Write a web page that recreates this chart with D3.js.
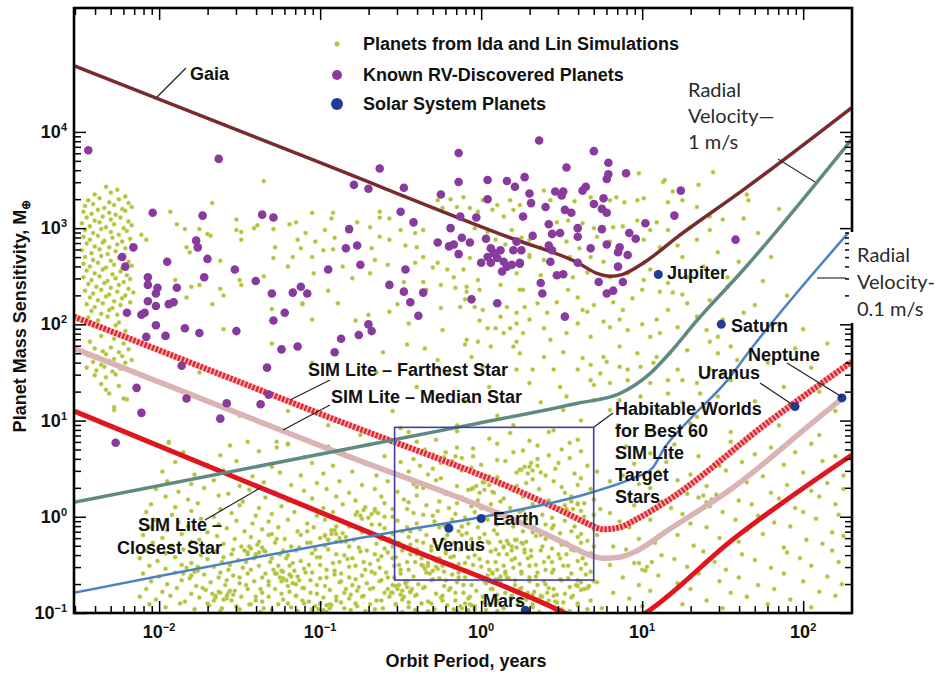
<!DOCTYPE html>
<html><head><meta charset="utf-8">
<script src="https://cdn.jsdelivr.net/npm/d3@7"></script>
<style>
body{margin:0;background:#fff}
svg{display:block}
text{font-family:"Liberation Sans",Arial,sans-serif}
.b{font-weight:bold;font-size:18px;fill:#111}
.rv{font-family:Lato,"Liberation Sans",sans-serif;font-size:20px;fill:#2b2b2b}
</style>
</head><body>
<svg id="c" width="935" height="673"></svg>
<script>
// ---------------- DATA ----------------
const xDomain = [0.00296, 201];      // orbit period, years
const yDomain = [0.1, 194000];       // planet mass, Earth masses
const xTickExp = [-2, -1, 0, 1, 2];
const yTickExp = [-1, 0, 1, 2, 3, 4];
const legendLabels = ["Planets from Ida and Lin Simulations", "Known RV-Discovered Planets", "Solar System Planets"];

// Solar system planets [name, period (yr), mass (Earth masses)]
const solarPlanets = [
  ["Venus", 0.63, 0.76], ["Earth", 1.0, 0.96], ["Mars", 1.88, 0.107],
  ["Jupiter", 12.6, 330], ["Saturn", 31, 100], ["Uranus", 89, 14], ["Neptune", 174, 17.2]
];

// Curves, as [log10 period, log10 mass]
const gaiaLog = [[-2.53,4.69],[-1,3.68],[.18,2.9],[.6,2.64],[.72,2.53],[.8,2.5],[.88,2.52],[1.01,2.64],[1.22,2.91],[1.63,3.4],[2.3,4.25]];
const farthestLog = [[-2.53,2.08],[-1,1.07],[.4,.14],[.55,.02],[.66,-.07],[.76,-.13],[.86,-.11],[.96,-.03],[1.16,.17],[1.78,.98],[2.3,1.61]];
const medianLog = [[-2.53,1.75],[-1,.74],[.4,-.18],[.55,-.3],[.66,-.39],[.76,-.43],[.86,-.42],[.96,-.36],[1.16,-.14],[1.57,.31],[2.06,.98],[2.25,1.24]];
const closestLog = [[-2.53,1.1],[-.48,-.31],[.52,-1],[.78,-1.22],[1.02,-1],[1.56,-.24],[2.3,.64]];
const rv1Log = [[-2.53,.15],[-.07,.955],[.6,1.18],[.86,1.28],[1.05,1.49],[1.17,1.7],[1.34,2.04],[1.63,2.57],[2.3,3.92]];
const rv01Log = [[-2.53,-.79],[-.48,-.14],[.01,0],[.7,.26],[.94,.4],[1.06,.5],[1.14,.72],[1.3,1.02],[1.53,1.42],[1.67,1.73],[2.28,2.95]];
// Habitable zone box: [period min, period max], [mass min, mass max]
const habitablePeriod = [0.29, 5.0];
const habitableMass = [0.22, 8.5];

// Known RV-discovered planets [log10 P, log10 M]
const rvPlanetsLog = [[-2.44,3.81],[-1.63,3.72],[-2.04,3.16],[-1.73,3.13],[-1.36,3.14],[-1.29,3.11],[-2.16,2.8],[-1.77,2.87],[-1.76,2.8],[-2.23,2.7],[-2.21,2.6],[-1.95,2.65],[-1.7,2.68],[-1.53,2.57],[-2.07,2.49],[-1.72,2.49],[-1.4,2.45],[-2.07,2.41],[-2.01,2.38],[-1.89,2.38],[-1.12,2.39],[-2.02,2.32],[-2.07,2.24],[-2.02,2.19],[-1.94,2.21],[-1.91,2.23],[-2.11,2.1],[-2.09,2.12],[-2.2,2.12],[-2.02,1.99],[-1.96,1.88],[-1.84,1.96],[-1.75,1.91],[-1.52,1.93],[-1.3,2.32],[-1.17,2.33],[-1.22,2.12],[-1.29,2.04],[-1.24,1.74],[-1.14,1.77],[-2.08,1.87],[-1.86,1.57],[-1.33,1.55],[-2.14,1.34],[-1.83,1.23],[-1.58,1.18],[-1.37,1.17],[-2.11,1.08],[-1.62,1.02],[-2.27,.77],[-1.32,1.27],
[-.14,3.78],[-.63,3.62],[-.79,3.45],[-.7,3.41],[-.48,3.42],[-.14,3.48],[-.25,3.35],[.04,3.5],[.16,3.49],[.21,3.43],[.04,3.3],[-.5,3.17],[-.42,3.06],[-.13,3.12],[-.03,3.11],[-.82,2.99],[-.19,3],[-.12,2.9],[-.27,2.85],[-.2,2.81],[-.17,2.83],[-.07,2.85],[.03,2.89],[-.84,2.79],[-.77,2.82],[-.14,2.73],[.06,2.79],[.08,2.74],[.1,2.69],[.12,2.77],[.04,2.7],[.14,2.65],[.16,2.6],[.19,2.62],[.2,2.77],[.22,2.86],[0,2.64],[.06,2.64],[.13,2.55],[.24,2.64],[-.75,2.62],[-.95,2.57],[-.47,2.57],[-.57,2.41],[-1.08,2.32],[-.48,2.34],[-.36,2.33],[-.44,2.23],[-.39,2.09],[-.06,2.26],[.1,2.22],[-.7,2],[-.68,1.93],[-.76,1.89],[-.87,1.85],[-.91,1.71],
[.36,3.91],[.7,3.8],[.79,3.68],[.9,3.57],[.79,3.56],[.78,3.51],[.53,3.63],[.27,3.53],[.3,3.36],[.31,3.26],[.46,3.38],[.51,3.38],[.5,3.34],[.65,3.43],[.63,3.39],[.76,3.31],[.7,3.25],[.4,3.22],[.52,3.19],[.56,3.16],[.75,3.2],[.78,3.16],[.26,3.12],[.42,3.04],[.6,3],[.75,2.99],[1.02,3.05],[1.24,3.39],[1.2,3.13],[.32,2.92],[.44,2.94],[.49,2.95],[.6,2.91],[.92,2.95],[.96,2.89],[.78,2.83],[.68,2.79],[.42,2.82],[.44,2.77],[.86,2.8],[.85,2.75],[.91,2.72],[.25,2.77],[.24,2.63],[.43,2.65],[.85,2.6],[.6,2.64],[.73,2.44],[.47,2.51],[.51,2.52],[.37,2.43],[.88,2.44],[1.58,2.88],[.38,2.32],[.78,2.32],[.82,2.35],[.52,2.08]];

// Ida & Lin simulated planets [log10 P, log10 M] — hot-Jupiter pile-up at left
const simClusterLog = [[-2.33,3.43],[-2.26,3.4],[-2.4,3.35],[-2.3,3.37],[-2.21,3.33],[-2.44,3.29],[-2.37,3.31],[-2.31,3.27],[-2.25,3.3],[-2.19,3.26],[-2.46,3.23],[-2.41,3.25],[-2.34,3.21],[-2.28,3.24],[-2.23,3.2],[-2.17,3.22],[-2.47,3.17],[-2.42,3.15],[-2.38,3.19],[-2.31,3.16],[-2.27,3.14],[-2.21,3.18],[-2.45,3.11],[-2.4,3.08],[-2.35,3.12],[-2.3,3.09],[-2.24,3.11],[-2.19,3.07],[-2.48,3.05],[-2.43,3.02],[-2.37,3.06],[-2.33,3.01],[-2.28,3.04],[-2.22,3],[-2.17,3.03],[-2.46,2.98],[-2.41,2.95],[-2.36,2.99],[-2.3,2.96],[-2.25,2.93],[-2.2,2.97],[-2.47,2.91],[-2.43,2.88],[-2.38,2.92],[-2.34,2.87],[-2.29,2.9],[-2.23,2.86],[-2.18,2.89],[-2.45,2.84],[-2.4,2.81],[-2.35,2.85],[-2.31,2.8],[-2.26,2.83],[-2.21,2.79],[-2.16,2.82],[-2.48,2.77],[-2.42,2.74],[-2.37,2.78],[-2.32,2.73],[-2.27,2.76],[-2.22,2.72],[-2.46,2.7],[-2.41,2.67],[-2.36,2.71],[-2.3,2.66],[-2.25,2.69],[-2.19,2.65],[-2.47,2.63],[-2.43,2.6],[-2.38,2.64],[-2.33,2.59],[-2.28,2.62],[-2.23,2.58],[-2.17,2.61],[-2.45,2.56],[-2.4,2.53],[-2.35,2.57],[-2.29,2.52],[-2.24,2.55],[-2.2,2.51],[-2.47,2.49],[-2.42,2.46],[-2.37,2.5],[-2.32,2.45],[-2.27,2.48],[-2.22,2.44],[-2.18,2.47],[-2.44,2.42],[-2.39,2.39],[-2.34,2.43],[-2.3,2.38],[-2.25,2.41],[-2.19,2.37],[-2.46,2.35],[-2.41,2.32],[-2.36,2.36],[-2.31,2.31],[-2.26,2.34],[-2.21,2.3],[-2.16,2.33],[-2.43,2.28],[-2.38,2.25],[-2.33,2.29],[-2.28,2.24],[-2.23,2.27],[-2.18,2.23],[-2.45,2.21],[-2.4,2.18],[-2.35,2.22],[-2.29,2.17],[-2.24,2.2],[-2.42,2.14],[-2.36,2.11],[-2.31,2.15],[-2.26,2.1],[-2.2,2.13],[-2.44,2.07],[-2.38,2.04],[-2.32,2.08],[-2.25,2.02],[-2.4,1.98],[-2.33,1.95],[-2.27,1.99],[-2.21,1.93],[-2.36,1.88],[-2.28,1.85],[-2.43,1.82],[-2.22,1.8],[-2.4,1.75],[-2.35,1.72],[-2.3,1.76],[-2.25,1.71],[-2.19,1.74],[-2.44,1.68],[-2.38,1.66],[-2.33,1.69],[-2.28,1.64],[-2.23,1.67],[-2.17,1.63],[-2.41,1.61],[-2.36,1.58],[-2.31,1.62],[-2.26,1.57],[-2.21,1.6],[-2.45,1.55],[-2.39,1.52],[-2.34,1.56],[-2.29,1.51],[-2.24,1.54],[-2.4,1.47],[-2.33,1.45],[-2.27,1.48],[-2.36,1.38],[-2.25,1.36],[-2.31,1.28],[-2.2,1.22],[-2.28,1.14],[-2.33,1.32],[-2.22,1.23],[-2.28,1.11]];

const simUpperLog = [[-1.35,3.49],[-1.67,3.26],[-1.93,3.17],[-1.52,3.09],[-1.89,3.04],[-1.84,2.99],[-1.75,2.99],[-1.7,2.94],[-1.68,2.92],[-1.52,2.98],[-1.49,2.96],[-1.41,3],[-1.39,3.03],[-1.29,2.99],[-1.19,3.04],[-1.15,3.06],[-2.11,2.93],[-2.08,2.88],[-1.83,2.8],[-1.81,2.75],[-1.49,2.88],[-1.28,2.8],[-1.29,2.69],[-1.17,2.7],[-1.62,2.66],[-1.9,2.46],[-1.75,2.41],[-1.5,2.46],[-1.49,2.41],[-1.2,2.6],[-1.14,2.88],[-1.8,2.39],[-1.83,2.28],[-1.67,2.21],[-1.62,2.37],[-1.3,2.16],[-1.11,2.21],[-1.94,.78],[-1.27,.78],[-1.2,.75],
[-1.05,3.16],[-.92,3.16],[-.93,3.1],[-.97,2.98],[-.77,3.06],[-.69,3.01],[-.63,3.17],[-.63,3.11],[-.57,3.1],[-1.09,2.95],[-1.03,2.86],[-.91,2.9],[-1.12,2.79],[-.98,2.77],[-.92,2.78],[-1.05,2.7],[-.68,2.79],[-.63,2.91],[-.57,2.88],[-.5,2.98],[-.41,2.95],[-.36,2.98],[-.47,2.82],[-.4,2.8],[-.66,2.67],[-.58,2.62],[-.86,2.6],[-1.04,2.53],[-.8,2.48],[-.69,2.53],[-.48,2.44],[-.36,2.7],[-.3,2.59],[-.27,2.64],[-.41,2.64],[-.21,2.57],[-.17,2.49],[-.11,2.57],[-.36,2.44],[-.25,2.41],[-.09,2.39],[-.02,2.46],
[-.27,3.29],[-.24,3.21],[-.19,3.3],[-.15,3.22],[-.11,3.32],[-.07,3.21],[-.02,3.17],[.01,3.29],[.07,3.19],[.1,3.24],[.14,3.12],[.18,3.29],[.2,3.19],[.24,3.24],[-.04,3],[.04,2.96],[.15,2.83],[.19,2.98],[.25,2.9],[.3,2.72],[.09,2.88],[-.07,2.69],[-.1,2.26],[-.01,2.36],[.12,2.41],[.24,2.36],
[-1.11,2.22],[-.89,2.22],[-.78,2.04],[-.57,2.13],[-.52,2.21],[-.45,2.01],[-.46,1.79],[-.61,1.71],[-.34,2.36],[-.25,2.17],[-.24,1.94],[-.16,2.38],[-.13,2.18],[-.09,2.34],[-.04,2.18],[.01,2.15],[-.09,1.84],[-.1,1.79],[-.02,1.82],[-.01,2.04],[.04,1.96],[.09,1.96],[.14,1.91],[.18,1.96],[.06,1.77],[.12,2.08],[.16,2.18],[.22,2.12],[.2,1.77],[-.06,1.66],[.01,1.56],[-.27,1.63],
[.39,3.39],[.43,3.29],[.58,3.28],[.68,3.32],[.8,3.29],[.84,3.32],[.89,3.27],[.97,3.29],[1.01,3.31],[.98,3.57],[1.13,3.48],[1.19,3.38],[1.25,3.29],[1.16,3.27],[1.34,3.22],[1.44,3.58],[1.42,3.12],[1.5,3.09],[.47,3.06],[.54,3.08],[.63,3.05],[.7,3],[.82,3.01],[.88,3.02],[.97,3.08],[1.05,2.98],[1.09,3.06],[1.16,2.98],[1.3,3.01],[1.42,2.98],[1.63,3.1],[.3,2.88],[.37,2.8],[.53,2.86],[.61,2.79],[.72,2.91],[.8,2.86],[1.01,2.88],[1.11,2.8],[1.22,2.82],[1.34,2.88],[1.47,2.75],[1.25,2.7],[1.38,2.6],[1.01,2.64],[1.05,2.57],[.3,2.7],[.39,2.67],[.55,2.7],[.68,2.7],[.76,2.65],[.22,2.53],[.37,2.51],[.57,2.49],[.66,2.54],[.8,2.49],[.91,2.53],[1.01,2.46],[1.16,2.43],[1.28,2.49],[1.53,2.49]];

const simMidLog = [[.26,2.36],[.27,2.18],[.35,2.22],[.41,2.12],[.3,2.05],[.22,2.01],[.47,2.23],[.54,2.36],[.6,2.28],[.63,2.15],[.66,2.13],[.7,2.2],[.82,2.23],[.88,2.15],[.94,2.27],[1,2.36],[1.11,2.34],[1.19,2.33],[1.25,2.31],[1.16,2.15],[1.28,2.22],[1.34,2.08],[1.09,2.05],[1,2],[.86,2.05],[.76,2.03],[.8,1.97],[.6,2.01],[.39,1.96],[.26,1.91],[.22,1.82],[.43,1.84],[.53,1.91],[.68,1.87],[.91,1.94],[1.05,1.87],[1.11,1.91],[1.22,1.97],[1.4,1.94],[1.47,1.87],[1.42,1.82],[1.28,1.73],[1.17,1.7],[1.09,1.66],[.97,1.7],[.86,1.77],[.76,1.66],[.78,1.61],[.63,1.65],[.68,1.58],[.51,1.71],[.39,1.66],[.32,1.53],[.45,1.53],[.6,1.53],[.74,1.49],[.86,1.56],[.91,1.53],[.99,1.56],[1.07,1.6],[1.22,1.53],[1.25,1.42],[1.34,1.39],[1.42,1.53],[1.5,1.49],[1.59,1.63],[1.47,1.7],[1.55,1.77],[1.5,2.05],[1.63,2.12],[1.42,2.25],[1.53,2.39],[.24,1.7],[.22,1.53],[.3,1.39],[.49,1.35],[.68,1.42],[.7,1.37],[.8,1.39],[.91,1.42],[1.05,1.39],[1.16,1.42],[.99,1.25],[.86,1.21],[.7,1.21],[.53,1.25],[.37,1.19],[1.16,1.28],[1.25,1.19],[1.36,1.28],[1.47,1.25],[1.55,1.42],[1.38,1.14],[1.11,1.11],[.8,1.11],[.51,1.11],[1.34,1.04],
[1.72,2.95],[1.8,2.7],[1.75,2.45],[1.9,2.3],[1.7,2.2],[1.85,2],[1.95,1.75],[2.05,1.55],[1.78,1.6],[1.88,1.35],[2.1,1.3],[2.2,1.1],[1.7,1.2],[2,1.95],[1.65,3.35],[1.85,3.2],[1.6,2.65],[2.15,1.8],[1.14,3.5],[1.35,3.45],[1.66,3.29],
[-1.6,1.95],[-1.3,1.8],[-1.75,1.5],[-1.05,1.6],[-.8,1.3],[-1.2,1.1],[-.65,1.5],[-1.5,1.05],[-.95,.95],[-.55,1.1],[-.4,1.35],[-.2,1.5],[-.35,1.75],[-.1,1.2],[.05,1.35],[.1,1.05],[-.15,.95],[-.7,2.1],[-.95,2.35],[-1.35,2.5],[-1.6,2.3],[-1.05,2.05],
[-.5,.92],[.2,.95],[.45,.9],[.62,1],[-.75,.85],[.85,.95],[1.05,.9],[1.3,.97],[1.55,.88],[1.85,.95],[2.1,.85]];

const simLowerLog = [[-1.94,.77],[-1.56,.74],[-1.45,.78],[-1.27,.72],[-1.2,.76],[-.95,.73],[-.7,.75],[-.4,.78],[-.15,.72],[.1,.76],[.35,.74],[.55,.77],[.9,.73],[1.2,.75],[1.55,.78],[1.8,.72],[2.05,.76],
[-1.85,.67],[-1.62,.64],[-1.38,.68],[-1.1,.62],[-.85,.66],[-.6,.63],[-.3,.65],[-.22,.67],[-.05,.63],[.2,.67],[.42,.64],[.62,.68],[.85,.62],[1.05,.66],[1.35,.63],[1.7,.65],[1.95,.67],[2.2,.63],
[-1.9,.57],[-1.7,.54],[-1.52,.58],[-1.3,.52],[-1.05,.56],[-.92,.53],[-.72,.55],[-.5,.57],[-.38,.53],[-.18,.57],[0,.54],[.15,.58],[.3,.52],[.48,.56],[.66,.53],[.95,.55],[1.15,.57],[1.48,.53],[1.62,.57],[1.88,.54],[2.12,.58],
[-1.98,.47],[-1.78,.44],[-1.6,.48],[-1.42,.42],[-1.25,.46],[-1.12,.43],[-.98,.45],[-.8,.47],[-.65,.43],[-.45,.47],[-.33,.44],[-.12,.48],[.05,.42],[.22,.46],[.4,.43],[.58,.45],[.72,.47],[.88,.43],[1.1,.47],[1.3,.44],[1.52,.48],[1.75,.42],[2,.46],[2.25,.43],
[-1.95,.37],[-1.8,.34],[-1.66,.38],[-1.5,.32],[-1.35,.36],[-1.18,.33],[-1.02,.35],[-.88,.37],[-.74,.33],[-.58,.37],[-.42,.34],[-.28,.38],[-.15,.32],[.02,.36],[.12,.33],[.28,.35],[.45,.37],[.6,.33],[.8,.37],[.98,.34],[1.22,.38],[1.4,.32],[1.65,.36],[1.9,.33],[2.15,.35],
[-2.02,.29],[-1.88,.26],[-1.72,.3],[-1.57,.24],[-1.44,.28],[-1.28,.25],[-1.1,.27],[-.96,.29],[-.82,.25],[-.66,.29],[-.52,.26],[-.36,.3],[-.22,.24],[-.08,.28],[.08,.25],[.2,.27],[.36,.29],[.52,.25],[.68,.29],[.86,.26],[1.05,.3],[1.28,.24],[1.55,.28],[1.8,.25],[2.05,.27],[2.25,.29],
[-1.96,.21],[-1.82,.18],[-1.63,.22],[-1.48,.16],[-1.34,.2],[-1.2,.17],[-1.05,.19],[-.9,.21],[-.78,.17],[-.62,.21],[-.48,.18],[-.4,.22],[-.26,.16],[-.12,.2],[-.02,.17],[.14,.19],[.26,.21],[.42,.17],[.56,.21],[.7,.18],[.92,.22],[1.12,.16],[1.35,.2],[1.6,.17],[1.85,.19],[2.1,.21],
[-2.05,.13],[-1.9,.1],[-1.76,.14],[-1.62,.08],[-1.5,.12],[-1.38,.09],[-1.24,.11],[-1.12,.13],[-.98,.09],[-.86,.13],[-.72,.1],[-.6,.14],[-.46,.08],[-.34,.12],[-.2,.09],[-.06,.11],[.06,.13],[.18,.09],[.32,.13],[.46,.1],[.6,.14],[.74,.08],[.95,.12],[1.18,.09],[1.42,.11],[1.68,.13],[1.95,.09],[2.2,.13],
[-2.08,.05],[-1.92,.02],[-1.8,.06],[-1.66,0],[-1.55,.04],[-1.4,.01],[-1.3,.03],[-1.16,.05],[-1.02,.01],[-.92,.05],[-.78,.02],[-.66,.06],[-.55,0],[-.42,.04],[-.3,.01],[-.16,.03],[-.04,.05],[.1,.01],[.24,.05],[.38,.02],[.5,.06],[.64,0],[.8,.04],[1,.01],[1.25,.03],[1.5,.05],[1.72,.01],[2,.05],[2.22,.02],
[-2.03,-.03],[-1.88,-.06],[-1.74,-.02],[-1.63,-.08],[-1.52,-.04],[-1.42,-.07],[-1.32,-.05],[-1.2,-.03],[-1.08,-.07],[-.97,-.03],[-.85,-.06],[-.74,-.02],[-.63,-.08],[-.52,-.04],[-.4,-.07],[-.29,-.05],[-.18,-.03],[-.08,-.07],[.04,-.03],[.15,-.06],[.28,-.02],[.4,-.08],[.52,-.04],[.65,-.07],[.86,-.05],[1.05,-.03],[1.3,-.07],[1.58,-.03],[1.82,-.06],[2.08,-.02],
[-2.06,-.11],[-1.95,-.14],[-1.82,-.1],[-1.7,-.16],[-1.58,-.12],[-1.47,-.15],[-1.36,-.13],[-1.26,-.11],[-1.14,-.15],[-1.04,-.11],[-.93,-.14],[-.82,-.1],[-.7,-.16],[-.6,-.12],[-.49,-.15],[-.38,-.13],[-.26,-.11],[-.14,-.15],[-.02,-.11],[.08,-.14],[.2,-.1],[.32,-.16],[.44,-.12],[.56,-.15],[.7,-.13],[.92,-.11],[1.15,-.15],[1.4,-.11],[1.65,-.14],[1.92,-.1],[2.18,-.16],
[-2.1,-.19],[-1.98,-.22],[-1.86,-.18],[-1.75,-.24],[-1.64,-.2],[-1.53,-.23],[-1.43,-.21],[-1.32,-.19],[-1.22,-.23],[-1.12,-.19],[-1,-.22],[-.9,-.18],[-.79,-.24],[-.68,-.2],[-.57,-.23],[-.45,-.21],[-.34,-.19],[-.23,-.23],[-.12,-.19],[-.01,-.22],[.1,-.18],[.22,-.24],[.34,-.2],[.46,-.23],[.6,-.21],[.72,-.19],[.98,-.23],[1.22,-.19],[1.48,-.22],[1.75,-.18],[2.02,-.24],[2.25,-.2],
[-2.04,-.27],[-1.92,-.3],[-1.8,-.26],[-1.7,-.32],[-1.6,-.28],[-1.49,-.31],[-1.39,-.29],[-1.28,-.27],[-1.18,-.31],[-1.08,-.27],[-.97,-.3],[-.87,-.26],[-.76,-.32],[-.65,-.28],[-.55,-.31],[-.44,-.29],[-.36,-.27],[-.27,-.31],[-.17,-.27],[-.06,-.3],[.04,-.26],[.14,-.32],[.26,-.28],[.38,-.31],[.5,-.29],[.62,-.27],[.82,-.31],[1.08,-.27],[1.32,-.3],[1.6,-.26],[1.88,-.32],[2.12,-.28],
[-2.08,-.35],[-1.96,-.38],[-1.85,-.34],[-1.74,-.4],[-1.65,-.36],[-1.55,-.39],[-1.45,-.37],[-1.35,-.35],[-1.25,-.39],[-1.15,-.35],[-1.05,-.38],[-.95,-.34],[-.85,-.4],[-.75,-.36],[-.66,-.39],[-.58,-.37],[-.49,-.35],[-.4,-.39],[-.31,-.35],[-.22,-.38],[-.13,-.34],[-.04,-.4],[.06,-.36],[.16,-.39],[.27,-.37],[.37,-.35],[.48,-.39],[.58,-.35],[.68,-.38],[.9,-.34],[1.12,-.4],[1.38,-.36],[1.62,-.39],[1.9,-.37],[2.18,-.35],
[-2.12,-.43],[-2.01,-.46],[-1.9,-.42],[-1.8,-.48],[-1.7,-.44],[-1.61,-.47],[-1.51,-.45],[-1.41,-.43],[-1.31,-.47],[-1.21,-.43],[-1.12,-.46],[-1.02,-.42],[-.92,-.48],[-.83,-.44],[-.73,-.47],[-.64,-.45],[-.55,-.43],[-.46,-.47],[-.37,-.43],[-.28,-.46],[-.19,-.42],[-.1,-.48],[-.01,-.44],[.09,-.47],[.19,-.45],[.29,-.43],[.39,-.47],[.49,-.43],[.6,-.46],[.71,-.42],[.95,-.48],[1.2,-.44],[1.45,-.47],[1.7,-.45],[1.98,-.43],[2.22,-.47],
[-2.06,-.51],[-1.96,-.54],[-1.86,-.5],[-1.76,-.56],[-1.66,-.52],[-1.57,-.55],[-1.48,-.53],[-1.38,-.51],[-1.29,-.55],[-1.19,-.51],[-1.1,-.54],[-1,-.5],[-.91,-.56],[-.82,-.52],[-.72,-.55],[-.63,-.53],[-.54,-.51],[-.45,-.55],[-.36,-.51],[-.27,-.54],[-.18,-.5],[-.09,-.56],[0,-.52],[.1,-.55],[.2,-.53],[.3,-.51],[.4,-.55],[.51,-.51],[.62,-.54],[.8,-.5],[1.02,-.56],[1.28,-.52],[1.52,-.55],[1.8,-.53],[2.05,-.51],
[-2.1,-.59],[-2,-.62],[-1.9,-.58],[-1.81,-.64],[-1.72,-.6],[-1.63,-.63],[-1.54,-.61],[-1.45,-.59],[-1.36,-.63],[-1.27,-.59],[-1.18,-.62],[-1.09,-.58],[-1,-.64],[-.91,-.6],[-.82,-.63],[-.74,-.61],[-.66,-.59],[-.58,-.63],[-.5,-.59],[-.42,-.62],[-.34,-.58],[-.26,-.64],[-.18,-.6],[-.1,-.63],[-.02,-.61],[.07,-.59],[.16,-.63],[.25,-.59],[.34,-.62],[.44,-.58],[.54,-.64],[.65,-.6],[.88,-.63],[1.1,-.61],[1.35,-.59],[1.6,-.63],[1.88,-.59],[2.15,-.62],
[-2.05,-.67],[-1.95,-.7],[-1.86,-.66],[-1.77,-.72],[-1.68,-.68],[-1.59,-.71],[-1.5,-.69],[-1.41,-.67],[-1.32,-.71],[-1.24,-.67],[-1.15,-.7],[-1.06,-.66],[-.97,-.72],[-.88,-.68],[-.8,-.71],[-.71,-.69],[-.63,-.67],[-.55,-.71],[-.47,-.67],[-.39,-.7],[-.31,-.66],[-.23,-.72],[-.15,-.68],[-.06,-.71],[.03,-.69],[.12,-.67],[.21,-.71],[.3,-.67],[.4,-.7],[.5,-.66],[.6,-.72],[.72,-.68],[.98,-.71],[1.22,-.69],[1.48,-.67],[1.72,-.71],[2,-.67],[2.24,-.7],
[-2.08,-.75],[-1.98,-.78],[-1.89,-.74],[-1.8,-.8],[-1.71,-.76],[-1.62,-.79],[-1.53,-.77],[-1.45,-.75],[-1.36,-.79],[-1.28,-.75],[-1.19,-.78],[-1.11,-.74],[-1.02,-.8],[-.94,-.76],[-.85,-.79],[-.77,-.77],[-.69,-.75],[-.6,-.79],[-.52,-.75],[-.44,-.78],[-.36,-.74],[-.28,-.8],[-.2,-.76],[-.11,-.79],[-.03,-.77],[.06,-.75],[.15,-.79],[.24,-.75],[.33,-.78],[.42,-.74],[.52,-.8],[.62,-.76],[.82,-.79],[1.05,-.77],[1.3,-.75],[1.55,-.79],[1.82,-.75],[2.1,-.78],
[-2.12,-.83],[-2.02,-.86],[-1.93,-.82],[-1.84,-.88],[-1.75,-.84],[-1.66,-.87],[-1.58,-.85],[-1.49,-.83],[-1.4,-.87],[-1.32,-.83],[-1.23,-.86],[-1.15,-.82],[-1.07,-.88],[-.98,-.84],[-.9,-.87],[-.82,-.85],[-.74,-.83],[-.65,-.87],[-.57,-.83],[-.49,-.86],[-.41,-.82],[-.33,-.88],[-.25,-.84],[-.16,-.87],[-.08,-.85],[.01,-.83],[.1,-.87],[.19,-.83],[.28,-.86],[.37,-.82],[.46,-.88],[.56,-.84],[.68,-.87],[.92,-.85],[1.15,-.83],[1.4,-.87],[1.65,-.83],[1.92,-.86],[2.2,-.82],
[-2.06,-.91],[-1.96,-.94],[-1.87,-.9],[-1.78,-.96],[-1.69,-.92],[-1.61,-.95],[-1.52,-.93],[-1.43,-.91],[-1.35,-.95],[-1.26,-.91],[-1.18,-.94],[-1.1,-.9],[-1.01,-.96],[-.93,-.92],[-.85,-.95],[-.77,-.93],[-.69,-.91],[-.61,-.95],[-.53,-.91],[-.45,-.94],[-.37,-.9],[-.29,-.96],[-.21,-.92],[-.12,-.95],[-.04,-.93],[.05,-.91],[.14,-.95],[.23,-.91],[.32,-.94],[.41,-.9],[.5,-.96],[.6,-.92],[.75,-.95],[1,-.93],[1.25,-.91],[1.5,-.95],[1.78,-.91],[2.05,-.94]];

const simDenseLog = [[-1.62,-.98],[-1.5,-.96],[-1.37,-.99],[-1.3,-.97],[-1.14,-.98],[-1.05,-.96],[-.96,-.99],[-.81,-.97],[-.72,-.98],[-.66,-.96],[-.49,-.99],[-.41,-.97],[-.33,-.98],[-.17,-.96],[-.08,-.99],[.03,-.97],[.1,-.98],[.27,-.96],[.36,-.99],[.46,-.97],[.55,-.98],[.66,-.96],
[-1.7,-.9],[-1.55,-.87],[-1.44,-.91],[-1.36,-.88],[-1.2,-.9],[-1.11,-.87],[-.94,-.91],[-.87,-.89],[-.78,-.9],[-.62,-.87],[-.53,-.91],[-.45,-.89],[-.31,-.9],[-.24,-.87],[-.07,-.91],[.01,-.89],[.09,-.9],[.24,-.87],[.32,-.91],[.51,-.89],[.6,-.9],
[-1.65,-.82],[-1.57,-.79],[-1.4,-.83],[-1.24,-.8],[-1.15,-.82],[-1.06,-.79],[-.9,-.83],[-.81,-.81],[-.73,-.82],[-.56,-.79],[-.48,-.83],[-.4,-.81],[-.24,-.82],[-.16,-.79],[-.07,-.83],[.1,-.81],[.19,-.82],[.29,-.79],[.38,-.83],[.47,-.81],[.57,-.82],
[-1.73,-.74],[-1.46,-.71],[-1.37,-.75],[-1.2,-.72],[-1.1,-.74],[-1.02,-.71],[-.84,-.75],[-.76,-.73],[-.67,-.74],[-.51,-.71],[-.43,-.75],[-.35,-.73],[-.19,-.74],[-.11,-.71],[.07,-.75],[.16,-.73],[.25,-.74],[.35,-.71],[.45,-.75],[.55,-.73],[.66,-.74],
[-1.58,-.66],[-1.5,-.63],[-1.32,-.67],[-1.23,-.64],[-1.13,-.66],[-.96,-.63],[-.87,-.67],[-.78,-.65],[-.62,-.66],[-.54,-.63],[-.46,-.67],[-.3,-.65],[-.22,-.66],[-.14,-.63],[.02,-.67],[.11,-.65],[.21,-.66],[.3,-.63],[.39,-.67],[.49,-.65],[.6,-.66],
[-1.62,-.58],[-1.43,-.55],[-1.34,-.59],[-1.24,-.56],[-1.05,-.58],[-.96,-.55],[-.87,-.59],[-.68,-.57],[-.59,-.58],[-.5,-.55],[-.32,-.59],[-.23,-.57],[-.14,-.58],[.05,-.55],[.15,-.59],[.25,-.57],[.35,-.58],[.45,-.55],[.56,-.59],[.68,-.57],
[-1.56,-.5],[-1.46,-.47],[-1.26,-.51],[-1.17,-.48],[-1.07,-.5],[-.88,-.47],[-.78,-.51],[-.69,-.49],[-.51,-.5],[-.41,-.47],[-.33,-.51],[-.14,-.49],[-.05,-.5],[.04,-.47],[.14,-.51],[.24,-.49],[.34,-.5],[.44,-.47],[.54,-.51],[.65,-.49],
[-1.6,-.42],[-1.4,-.39],[-1.3,-.43],[-1.2,-.4],[-1,-.42],[-.9,-.39],[-.8,-.43],[-.62,-.41],[-.53,-.42],[-.44,-.39],[-.26,-.43],[-.17,-.41],[-.08,-.42],[.11,-.39],[.21,-.43],[.31,-.41],[.42,-.42],[.53,-.39],[.63,-.43],
[-1.54,-.34],[-1.44,-.31],[-1.23,-.35],[-1.13,-.32],[-1.03,-.34],[-.82,-.31],[-.71,-.35],[-.6,-.33],[-.4,-.34],[-.31,-.31],[-.22,-.35],[-.02,-.33],[.09,-.34],[.19,-.31],[.31,-.35],[.44,-.33],[.56,-.34],[.7,-.31],
[-1.38,-.26],[-1.27,-.23],[-1.06,-.27],[-.95,-.24],[-.84,-.26],[-.62,-.23],[-.51,-.27],[-.4,-.25],[-.29,-.26],[-.06,-.23],[.05,-.27],[.16,-.25],[.28,-.26],[.4,-.23],[.53,-.27],[.66,-.25],
[-1.3,-.18],[-1.08,-.15],[-.97,-.19],[-.74,-.16],[-.55,-.18],[-.44,-.15],[-.21,-.19],[-.09,-.17],[.02,-.18],[.26,-.15],[.37,-.19],[.49,-.17],[.62,-.18],
[-.9,-.1],[-.68,-.08],[-.46,-.11],[-.23,-.09],[-.12,-.1],[.1,-.08],[.33,-.11],[.45,-.09],[.58,-.1],
[-.6,0],[-.36,.02],[-.1,-.01],[.16,.01],[.44,-.01],[.7,.02],[-.55,.08],[-.27,.06],[0,.09],[.26,.07],[.53,.08],
[-.45,.15],[-.15,.14],[.12,.16],[.38,.15],[.64,.14],[-.4,.31],[-.05,.3],[.22,.32],[.5,.31],[-.25,.4],[.1,.41],[.32,.39],[.62,.4],
[-.3,.5],[-.06,.51],[.25,.49],[.46,.5],[-.42,.6],[-.12,.61],[.1,.59],[.35,.6],[.55,.61],[-.35,.7],[-.05,.71],[.26,.69],[.5,.7],
[-.28,.8],[.05,.81],[.3,.79],[.6,.8],[-.45,.88],[-.15,.89],[.18,.87],[.42,.88]];

// small clumps seen in the dense low-mass band
const simClumpsLog = [[-1.23,-.57],[-1.19,-.6],[-1.16,-.56],[-1.25,-.63],[-1.21,-.66],[-1.14,-.62],[-1.28,-.59],[-1.17,-.69],
[-.53,-.72],[-.49,-.77],[-.46,-.73],[-.55,-.79],[-.5,-.81],[-.44,-.78],[-.58,-.75],[-.47,-.69],
[.17,-.28],[.22,-.32],[.25,-.27],[.19,-.35],[.14,-.31],[.27,-.34],[.21,-.24],[.12,-.26],
[-.93,-.18],[-.88,-.22],[-.86,-.17],[-.95,-.24],[-.9,-.26],[-.84,-.21],[-.97,-.2],[-.91,-.14],
[.37,-.83],[.42,-.87],[.45,-.82],[.39,-.9],[.34,-.86],[.47,-.89],[.41,-.79],[.32,-.81],
[-1.63,-.78],[-1.58,-.82],[-1.56,-.77],[-1.65,-.84],[-1.6,-.86],[-1.54,-.81],[-1.67,-.8],
[-.03,.32],[.02,.28],[.05,.33],[-.01,.25],[-.06,.29],[.07,.26],[.01,.36],
[-.33,-.48],[-.28,-.52],[-.26,-.47],[-.35,-.54],[-.3,-.56],[-.24,-.51],[-.37,-.5],[-.29,-.44],
[.52,.12],[.57,.08],[.6,.13],[.54,.05],[.49,.09],[.62,.06],[.56,.16],
[-1.43,-.33],[-1.38,-.37],[-1.36,-.32],[-1.45,-.39],[-1.4,-.41],[-1.34,-.36],[-1.47,-.35],
[-.73,.07],[-.68,.03],[-.66,.08],[-.75,.01],[-.7,-.01],[-.64,.04],[-.77,.05],
[.27,.52],[.32,.48],[.35,.53],[.29,.45],[.24,.49],[.37,.46],[.31,.56],
[-.13,-.93],[-.08,-.97],[-.06,-.92],[-.15,-.98],[-.1,-.9],[-.04,-.96],
[-1.03,-.93],[-.98,-.97],[-.96,-.92],[-1.05,-.98],[-1,-.9],[-.94,-.95],
[.98,-.48],[1.03,-.52],[1.06,-.47],[1,-.55],[1.38,.22],[1.43,.18],[1.46,.23],[1.4,.15],
[-1.83,-.53],[-1.78,-.57],[-1.76,-.52],[-1.85,-.59],[-1.8,-.61],
[.62,-.68],[.67,-.72],[.7,-.67],[.64,-.75],[.59,-.71],
[-.23,.62],[-.18,.58],[-.16,.63],[-.25,.56],[-.2,.54],
[.07,-.58],[.12,-.62],[.15,-.57],[.09,-.65],[.04,-.61],[.17,-.64]];

// ---------------- DRAWING ----------------
const plot = {left: 74, right: 852, top: 8, bottom: 613};
const x = d3.scaleLog().domain(xDomain).range([plot.left, plot.right]);
const y = d3.scaleLog().domain(yDomain).range([plot.bottom, plot.top]);
const E = v => Math.pow(10, v);
const svg = d3.select("#c");
svg.append("rect").attr("width", 935).attr("height", 673).attr("fill", "#fff");
svg.append("defs").append("clipPath").attr("id", "clip").append("rect")
  .attr("x", plot.left).attr("y", plot.top).attr("width", plot.right - plot.left).attr("height", plot.bottom - plot.top);
const g = svg.append("g").attr("clip-path", "url(#clip)");

const sims = [...simClusterLog, ...simUpperLog, ...simMidLog, ...simLowerLog, ...simDenseLog, ...simClumpsLog];
g.append("g").selectAll("circle").data(sims).join("circle")
  .attr("cx", d => x(E(d[0]))).attr("cy", d => y(E(d[1]))).attr("r", 2)
  .attr("fill", "#b2c13a").attr("stroke", "rgba(196,208,96,0.45)").attr("stroke-width", 1.1);

const line = d3.line().x(d => x(E(d[0]))).y(d => y(E(d[1]))).curve(d3.curveMonotoneX);
function curve(data, color, width, dash) {
  const p = g.append("path").datum(data).attr("d", line).attr("fill", "none")
    .attr("stroke", color).attr("stroke-width", width).attr("stroke-linecap", "butt");
  if (dash) p.attr("stroke-dasharray", dash);
}
curve(closestLog, "#e0151f", 5);
curve(medianLog, "#dbb3b4", 5.5);
curve(farthestLog, "#f4b4b4", 6);
curve(farthestLog, "#e3262f", 6, "2.4,1.6");
curve(rv1Log, "#5e8a82", 3.5);
curve(rv01Log, "#4a82c4", 2.5);
curve(gaiaLog, "#7a2b2e", 3.5);

g.append("g").selectAll("circle").data(rvPlanetsLog).join("circle")
  .attr("cx", d => x(E(d[0]))).attr("cy", d => y(E(d[1]))).attr("r", 4.3).attr("fill", "#883a9d");

// habitable box
g.append("rect").attr("x", x(habitablePeriod[0])).attr("y", y(habitableMass[1]))
  .attr("width", x(habitablePeriod[1]) - x(habitablePeriod[0])).attr("height", y(habitableMass[0]) - y(habitableMass[1]))
  .attr("fill", "none").attr("stroke", "#3b3fa3").attr("stroke-width", 1.6);

g.append("g").selectAll("circle").data(solarPlanets).join("circle")
  .attr("cx", d => x(d[1])).attr("cy", d => y(d[2])).attr("r", 4.5).attr("fill", "#203b95");

// axes (inward ticks on all sides)
const isMajor = t => Math.abs(Math.log10(t) - Math.round(Math.log10(t))) < 1e-6;
const xt = x.ticks(), yt = y.ticks().filter(t => t <= 1.0001e4);
function ax(axisFn, scale, vals, len, tr) {
  const a = svg.append("g").attr("transform", tr)
    .call(axisFn(scale).tickValues(vals).tickSize(-len).tickFormat(() => ""));
  a.select(".domain").remove();
  a.selectAll("line").attr("stroke", "#000").attr("stroke-width", 1.5);
}
const xMaj = xt.filter(isMajor), xMin = xt.filter(t => !isMajor(t));
const yMaj = yt.filter(isMajor), yMin = yt.filter(t => !isMajor(t));
ax(d3.axisBottom, x, xMin, 7, `translate(0,${plot.bottom})`);
ax(d3.axisBottom, x, xMaj, 12, `translate(0,${plot.bottom})`);
ax(d3.axisTop, x, xMin, 7, `translate(0,${plot.top})`);
ax(d3.axisTop, x, xMaj, 12, `translate(0,${plot.top})`);
ax(d3.axisLeft, y, yMin, 7, `translate(${plot.left},0)`);
ax(d3.axisLeft, y, yMaj, 12, `translate(${plot.left},0)`);
ax(d3.axisRight, y, yMin, 7, `translate(${plot.right},0)`);
ax(d3.axisRight, y, yMaj, 12, `translate(${plot.right},0)`);
svg.append("rect").attr("x", plot.left).attr("y", plot.top).attr("width", plot.right - plot.left)
  .attr("height", plot.bottom - plot.top).attr("fill", "none").attr("stroke", "#000").attr("stroke-width", 2.6);

const sup = e => (e < 0 ? "\u2212" + (-e) : "" + e);
xTickExp.forEach(e => {
  const t = svg.append("text").attr("class", "b").attr("font-size", 17).attr("x", x(E(e))).attr("y", 638).attr("text-anchor", "middle");
  t.append("tspan").text("10");
  t.append("tspan").attr("dy", -7).attr("font-size", 11).text(sup(e));
});
yTickExp.forEach(e => {
  const t = svg.append("text").attr("class", "b").attr("font-size", 17).attr("x", 67).attr("y", y(E(e)) + 6).attr("text-anchor", "end");
  t.append("tspan").text("10");
  t.append("tspan").attr("dy", -7).attr("font-size", 11).text(sup(e));
});

svg.append("text").attr("class", "b").attr("font-size", 19).attr("x", 466).attr("y", 667).attr("text-anchor", "middle").text("Orbit Period, years");
const yt2 = svg.append("text").attr("class", "b").attr("font-size", 18.5).attr("text-anchor", "middle")
  .attr("transform", "translate(26,316) rotate(-90)");
yt2.append("tspan").text("Planet Mass Sensitivity, M");
yt2.append("tspan").attr("dy", 4).attr("font-size", 12).text("\u2295");

// legend
const legendMarks = [[2.5, "#b2c13a"], [5, "#883a9d"], [6, "#203b95"]];
[44, 75, 104].forEach((cy, i) => {
  svg.append("circle").attr("cx", 337).attr("cy", cy).attr("r", legendMarks[i][0]).attr("fill", legendMarks[i][1]);
  svg.append("text").attr("class", "b").attr("x", 363).attr("y", cy + 6).text(legendLabels[i]);
});

// annotations
function lead(x1, y1, x2, y2, c) {
  svg.append("line").attr("x1", x1).attr("y1", y1).attr("x2", x2).attr("y2", y2)
    .attr("stroke", c || "#222").attr("stroke-width", 1.2);
}
function label(txt, xx, yy, anchor) {
  svg.append("text").attr("class", "b").attr("x", xx).attr("y", yy).attr("text-anchor", anchor || "start").text(txt);
}
lead(157, 97, 186, 68); label("Gaia", 190, 80);
lead(290, 400, 330, 380); label("SIM Lite \u2013 Farthest Star", 308, 376);
lead(283, 430, 330, 405); label("SIM Lite \u2013 Median Star", 331, 403);
lead(205, 520, 260, 488); label("SIM Lite \u2013", 222, 531, "end"); label("Closest Star", 222, 554, "end");
lead(594, 427, 613, 413);
["Habitable Worlds", "for Best 60", "SIM Lite", "Target", "Stars"].forEach((s, i) => label(s, 615, 415 + i * 22));
label("Jupiter", 667, 279); label("Saturn", 731, 332);
label("Neptune", 748, 361); lead(787, 363, 842, 397);
label("Uranus", 760, 379, "end"); lead(760, 383, 793, 405);
label("Earth", 493, 525); label("Venus", 432, 551); label("Mars", 483, 607);

// radial velocity call-outs
lead(778, 159, 815, 182, "#333");
const r1 = svg.append("text").attr("class", "rv");
["Radial", "Velocity\u2014", "1 m/s"].forEach((s, i) => r1.append("tspan").attr("x", 688).attr("y", 97 + i * 26).text(s));
svg.append("rect").attr("x", 849).attr("y", 232).attr("width", 86).attr("height", 91).attr("fill", "#fff");
lead(817, 278, 846, 278, "#333");
const r2 = svg.append("text").attr("class", "rv").attr("font-size", 19);
["Radial", "Velocity-", "0.1 m/s"].forEach((s, i) => r2.append("tspan").attr("x", 857).attr("y", 262 + i * 27).text(s));
</script>
</body></html>
